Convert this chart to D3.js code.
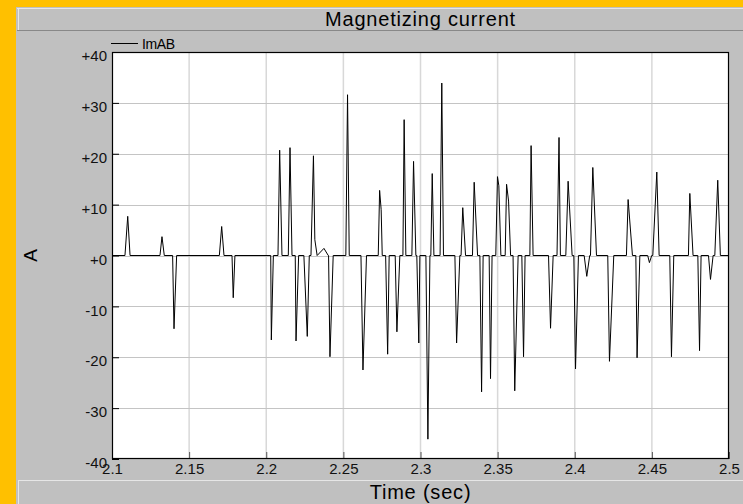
<!DOCTYPE html>
<html lang="en">
<head>
  <meta charset="utf-8">
  <title>Magnetizing current</title>
  <script src="https://d3js.org/d3.v7.min.js"></script>
  <style>
    body {
      margin: 0;
      background: #ffc000;
      font-family: Arial, "Liberation Sans", sans-serif;
    }
    svg { display: block; }
  </style>
</head>
<body>
  <div id="chart"></div>
  <script>
    // vertices of the ImAB trace
    const timeSec = [
      2.1000, 2.1084, 2.1102, 2.1117, 2.1311, 2.1324, 2.1339, 2.1393, 2.1402, 2.1419,
      2.1696, 2.1711, 2.1726, 2.1778, 2.1786, 2.1797, 2.2029, 2.2033, 2.2046,
      2.2076, 2.2087, 2.2102, 2.2143, 2.2154, 2.2167, 2.2188, 2.2193, 2.2210,
      2.2244, 2.2266, 2.2279, 2.2290, 2.2306, 2.2315, 2.2330, 2.2374, 2.2402,
      2.2404, 2.2413, 2.2434, 2.2516, 2.2527, 2.2538, 2.2614, 2.2627, 2.2650,
      2.2726, 2.2735, 2.2745, 2.2752, 2.2774, 2.2787, 2.2797, 2.2836, 2.2847, 2.2866,
      2.2886, 2.2894, 2.2905, 2.2944, 2.2955, 2.2970, 2.2976, 2.2989, 2.2996,
      2.3035, 2.3048, 2.3061, 2.3067, 2.3076, 2.3087, 2.3127, 2.3138, 2.3149,
      2.3223, 2.3234, 2.3255, 2.3263, 2.3274, 2.3292, 2.3337, 2.3348, 2.3370,
      2.3385, 2.3396, 2.3406, 2.3445, 2.3454, 2.3464, 2.3488, 2.3499, 2.3508, 2.3521,
      2.3549, 2.3558, 2.3571, 2.3584, 2.3600, 2.3611, 2.3633, 2.3657, 2.3668, 2.3678,
      2.3709, 2.3717, 2.3730, 2.3830, 2.3843, 2.3860, 2.3885, 2.3898, 2.3907,
      2.3942, 2.3957, 2.3983, 2.3994, 2.4005, 2.4024, 2.4061, 2.4078, 2.4097,
      2.4102, 2.4117, 2.4141, 2.4214, 2.4225, 2.4253, 2.4335, 2.4346, 2.4374,
      2.4396, 2.4404, 2.4422, 2.4473, 2.4484, 2.4499, 2.4506, 2.4532, 2.4547,
      2.4616, 2.4627, 2.4642, 2.4737, 2.4746, 2.4767, 2.4798, 2.4809, 2.4819,
      2.4867, 2.4880, 2.4897, 2.4908, 2.4927, 2.4944, 2.5000
    ];
    const imAB = [
      0, 0, 7.7, 0, 0, 3.7, 0, 0, -14.4, 0,
      0, 5.7, 0, 0, -8.3, 0, 0, -16.6, 0,
      0, 20.7, 0, 0, 21.2, 0, 0, -16.8, 0,
      0, -15.9, 0, 0, 19.6, 3.1, 0, 1.4, 0,
      0, -19.9, 0, 0, 31.6, 0, 0, -22.5, 0,
      0, 12.8, 9.0, 0, 0, -19.4, 0, 0, -15.0, 0,
      0, 26.7, 0, 0, 18.5, 0, 0, -17.2, 0,
      0, -36.1, 0, 0, 16.1, 0, 0, 33.9, 0,
      0, -17.2, 0, 0, 9.4, 0, 0, 14.4, 0,
      0, -26.8, 0, 0, -24.2, 0, 0, 15.5, 13.7, 0,
      0, 14.0, 10.7, 0, 0, -26.6, 0, 0, -19.9, 0,
      0, 21.6, 0, 0, -14.3, 0, 0, 23.2, 0,
      0, 14.6, 0, 0, -22.3, 0, 0, -4.1, 0,
      0, 17.3, 0, 0, -20.8, 0, 0, 11.0, 0,
      0, -20.1, 0, 0, -1.4, 0, 0, 16.4, 0,
      0, -19.9, 0, 0, 12.2, 0, 0, -18.7, 0,
      0, -4.7, 0, 0, 14.8, 0, 0
    ];
    const xTicks = [2.1, 2.15, 2.2, 2.25, 2.3, 2.35, 2.4, 2.45, 2.5];
    const yTicks = [-40, -30, -20, -10, 0, 10, 20, 30, 40];

    const width = 743, height = 504;
    const plot = { left: 112, top: 52, right: 729, bottom: 459 };
    const font = "Arial, 'Liberation Sans', sans-serif";

    const svg = d3.select("#chart").append("svg")
      .attr("width", width)
      .attr("height", height);

    // grey panel with title and axis-label bars
    svg.append("rect").attr("x", 16).attr("y", 7).attr("width", width - 16).attr("height", height - 7)
      .attr("fill", "#c0c0c0");
    svg.append("line").attr("x1", 17).attr("x2", width).attr("y1", 8.5).attr("y2", 8.5)
      .attr("stroke", "#e6e6e6");
    svg.append("line").attr("x1", 18.5).attr("x2", 18.5).attr("y1", 8).attr("y2", 30)
      .attr("stroke", "#e6e6e6");
    svg.append("line").attr("x1", 17).attr("x2", width).attr("y1", 30.5).attr("y2", 30.5)
      .attr("stroke", "#888");
    svg.append("line").attr("x1", 18).attr("x2", width).attr("y1", 480.5).attr("y2", 480.5)
      .attr("stroke", "#e6e6e6");
    svg.append("line").attr("x1", 18.5).attr("x2", 18.5).attr("y1", 480).attr("y2", height)
      .attr("stroke", "#e6e6e6");

    const x = d3.scaleLinear().domain([2.1, 2.5]).range([plot.left, plot.right]);
    const y = d3.scaleLinear().domain([-40, 40]).range([plot.bottom, plot.top]);

    svg.append("rect")
      .attr("x", plot.left).attr("y", plot.top)
      .attr("width", plot.right - plot.left).attr("height", plot.bottom - plot.top)
      .attr("fill", "#fff");

    // grid
    svg.append("g").selectAll("line")
      .data(xTicks.slice(1, -1))
      .join("line")
      .attr("x1", d => x(d)).attr("x2", d => x(d))
      .attr("y1", plot.top).attr("y2", plot.bottom)
      .attr("stroke", "#d8d8d8").attr("stroke-width", 1.5);
    svg.append("g").selectAll("line")
      .data(yTicks.slice(1, -1))
      .join("line")
      .attr("x1", plot.left).attr("x2", plot.right)
      .attr("y1", d => Math.round(y(d)) + 0.5).attr("y2", d => Math.round(y(d)) + 0.5)
      .attr("stroke", "#c4c4c4");

    // axes with inward ticks
    const fmtY = d => (d < 0 ? "-" + Math.abs(d) : "+" + d);
    svg.append("g")
      .attr("transform", `translate(${plot.left},0)`)
      .call(d3.axisLeft(y).tickValues(yTicks).tickSize(-7).tickPadding(5).tickFormat(fmtY))
      .call(g => g.select(".domain").remove())
      .call(g => g.selectAll(".tick line").attr("stroke", "#000"))
      .call(g => g.selectAll("text").attr("font-size", 15).attr("fill", "#111")
        .attr("dy", "0.58em").attr("font-family", font));

    svg.append("g")
      .attr("transform", `translate(0,${plot.bottom})`)
      .call(d3.axisBottom(x).tickValues(xTicks).tickSize(-7).tickPadding(4).tickFormat(d3.format("")))
      .call(g => g.select(".domain").remove())
      .call(g => g.selectAll(".tick line").attr("stroke", "#555"))
      .call(g => g.selectAll("text").attr("font-size", 15).attr("fill", "#111")
        .attr("font-family", font));

    // trace
    const line = d3.line().x((d, i) => x(timeSec[i])).y(d => y(d));
    svg.append("path")
      .datum(imAB)
      .attr("d", line)
      .attr("fill", "none")
      .attr("stroke", "#000")
      .attr("stroke-width", 1);

    // plot frame
    svg.append("rect")
      .attr("x", plot.left + 0.5).attr("y", plot.top + 0.5)
      .attr("width", plot.right - plot.left - 1).attr("height", plot.bottom - plot.top - 1)
      .attr("fill", "none").attr("stroke", "#000").attr("stroke-width", 1.2);

    // legend
    svg.append("line").attr("x1", 111).attr("x2", 138).attr("y1", 43.5).attr("y2", 43.5)
      .attr("stroke", "#000");
    svg.append("text").attr("x", 142).attr("y", 48.5).attr("font-size", 14)
      .attr("letter-spacing", -0.4).text("ImAB");

    // titles
    svg.append("text").attr("x", (plot.left + plot.right) / 2).attr("y", 25.5)
      .attr("text-anchor", "middle").attr("font-size", 20).attr("letter-spacing", 0.8)
      .text("Magnetizing current");
    svg.append("text").attr("x", (plot.left + plot.right) / 2).attr("y", 498.5)
      .attr("text-anchor", "middle").attr("font-size", 20).attr("letter-spacing", 0.8)
      .text("Time (sec)");
    svg.append("text")
      .attr("transform", `translate(37,${y(0)}) rotate(-90)`)
      .attr("text-anchor", "middle").attr("font-size", 19).text("A");
  </script>
</body>
</html>
